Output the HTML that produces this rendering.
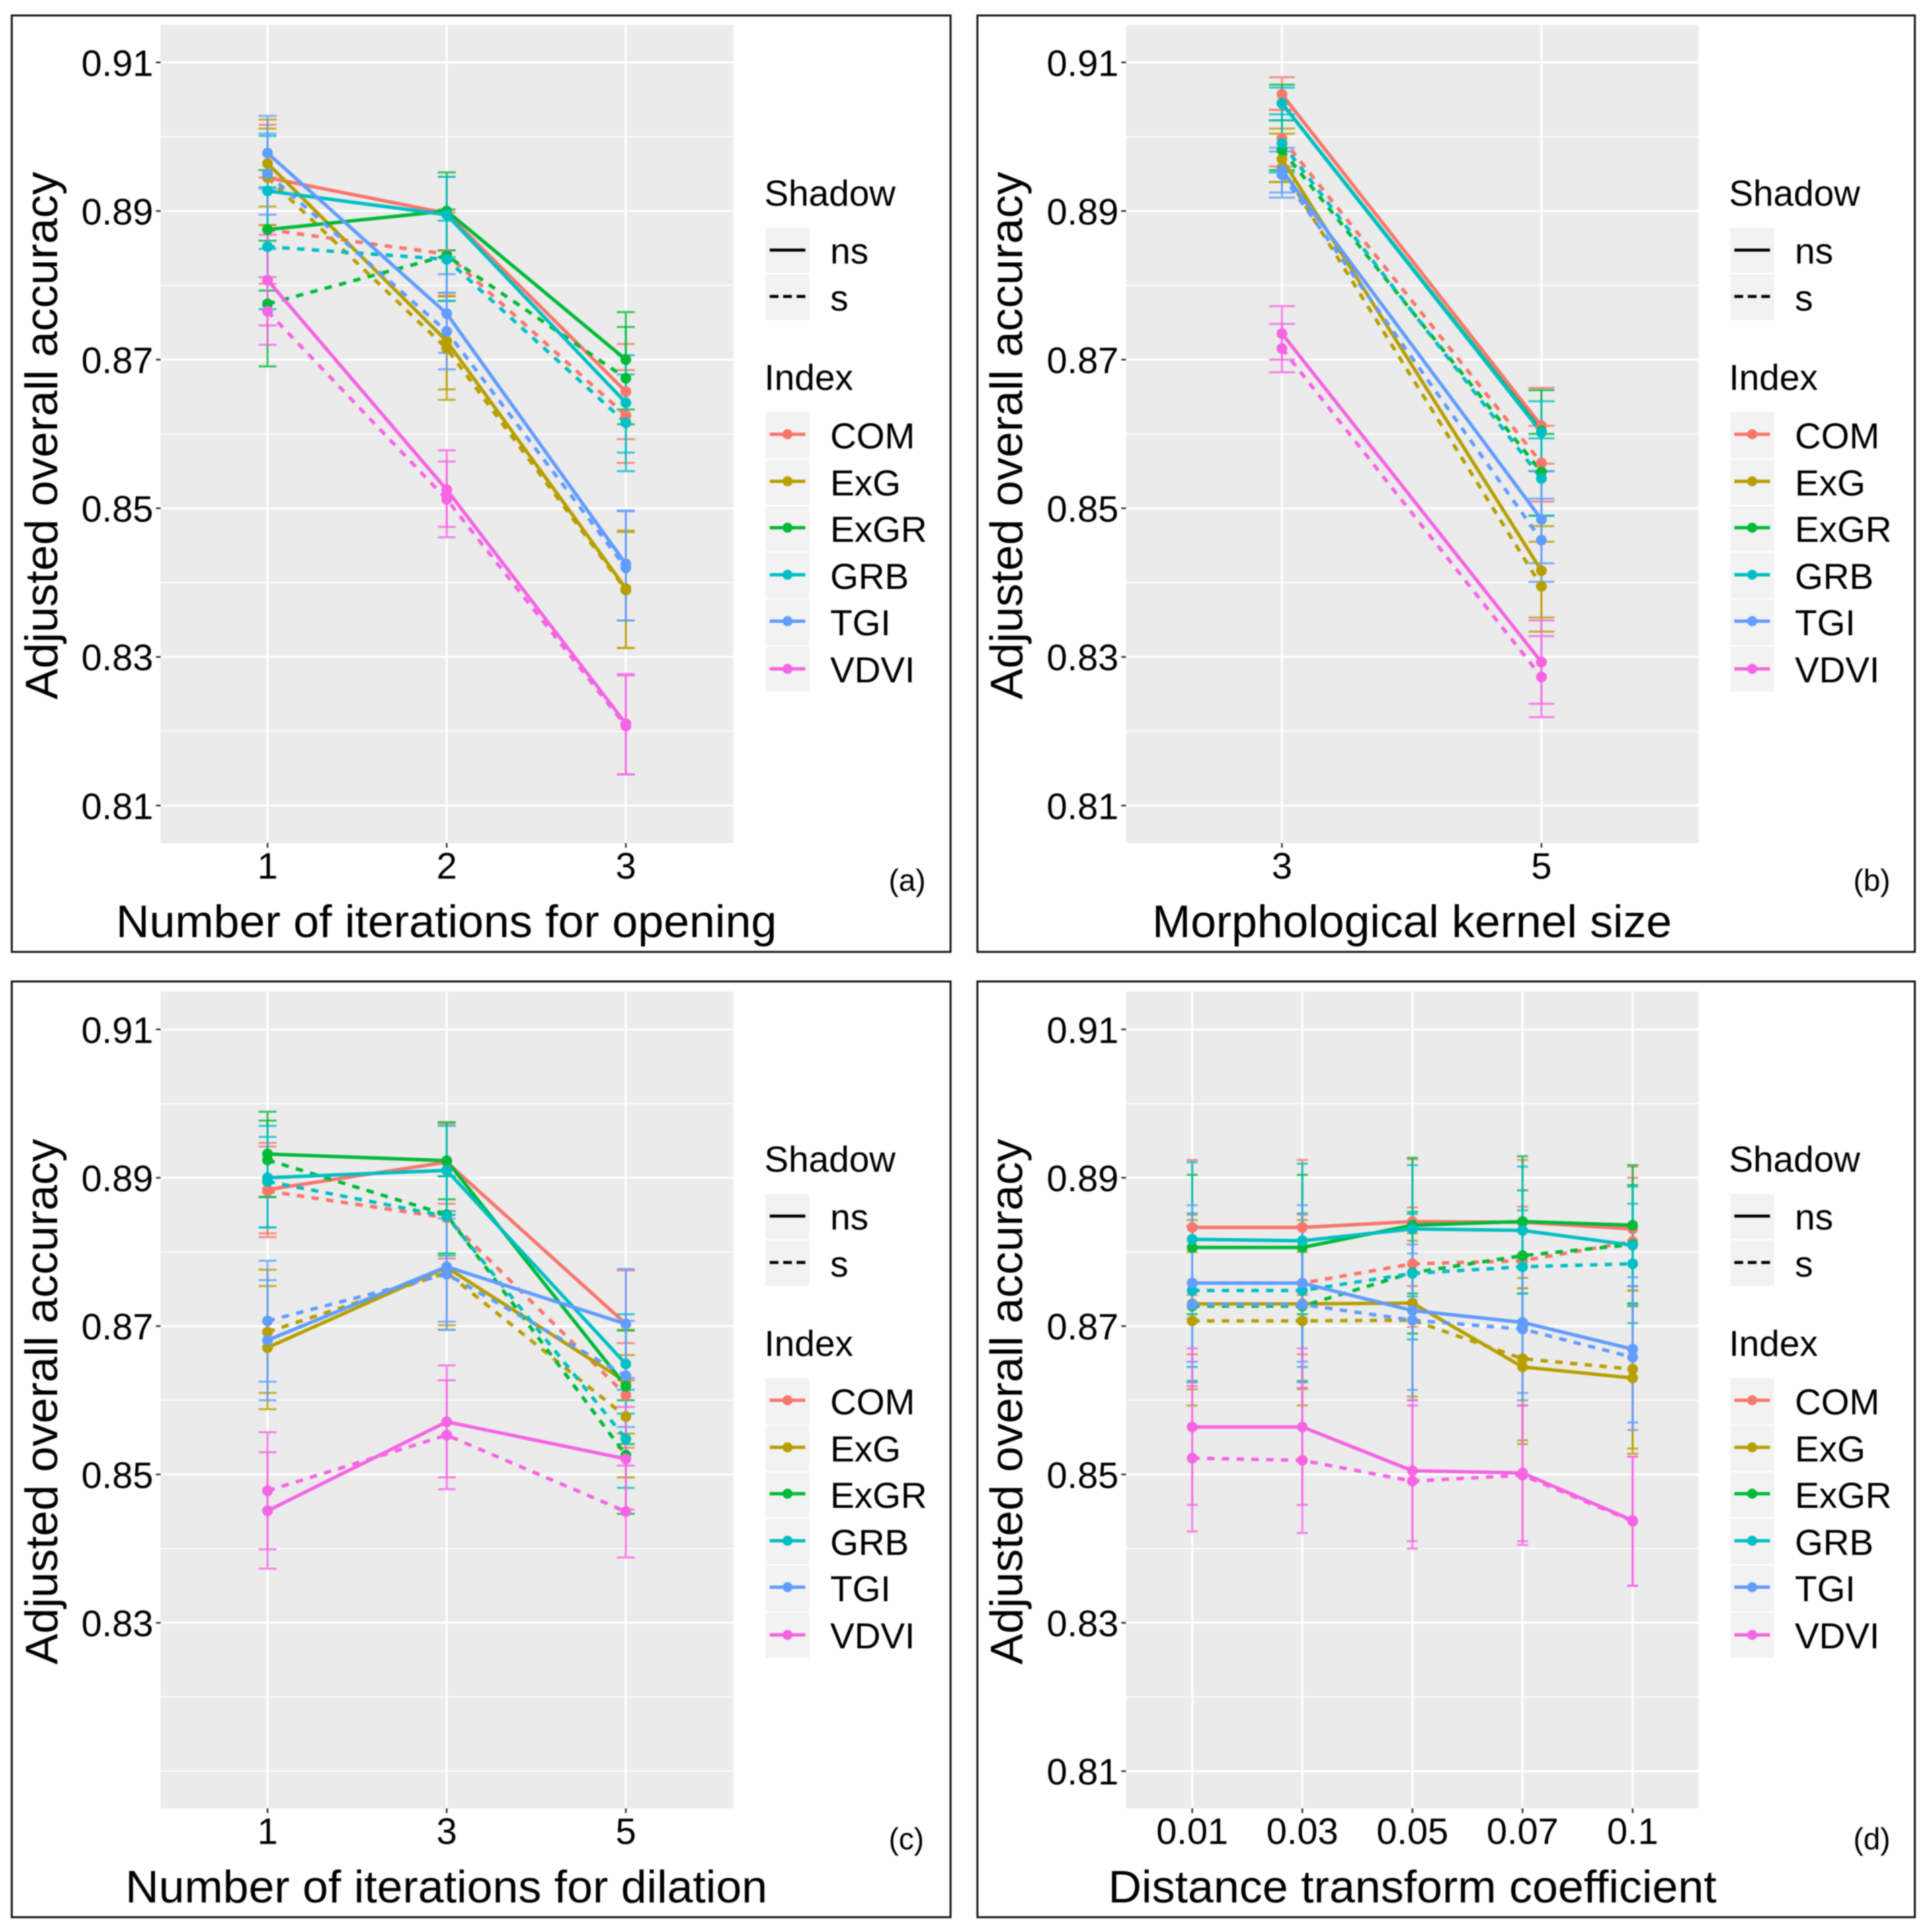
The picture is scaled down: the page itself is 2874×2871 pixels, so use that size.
<!DOCTYPE html>
<html lang="en">
<head>
<meta charset="utf-8">
<title>Adjusted overall accuracy panels</title>
<style>
html,body{margin:0;padding:0;background:#fff;}
body{width:2874px;height:2871px;overflow:hidden;}
svg{display:block;filter:blur(0.9px);font-family:"Liberation Sans",Arial,sans-serif;}
.axt{font-size:68px;fill:#000;}
.tk{font-size:55px;fill:#000;}
.lt{font-size:54px;fill:#000;}
.ll{font-size:54px;fill:#000;}
.tag{font-size:45px;fill:#000;}
.frame{fill:none;stroke:#1a1a1a;stroke-width:3;}
.key{fill:#f2f2f2;}
</style>
</head>
<body>
<svg id="chart" xmlns="http://www.w3.org/2000/svg" width="2874" height="2871" viewBox="0 0 2874 2871">
<rect width="2874" height="2871" fill="#fff"/>

<!-- panel a -->
<g>
<rect class="frame" x="17.5" y="23" width="1396.5" height="1393"/>
<g id="plot-a"></g>
<text class="axt" x="664" y="1394" text-anchor="middle" textLength="983" lengthAdjust="spacingAndGlyphs">Number of iterations for opening</text>
<text class="axt" transform="translate(85,648) rotate(-90)" text-anchor="middle" textLength="785" lengthAdjust="spacingAndGlyphs">Adjusted overall accuracy</text>
<text class="tag" x="1322" y="1325">(a)</text>
</g>

<!-- panel b -->
<g>
<rect class="frame" x="1454" y="23" width="1394.5" height="1393"/>
<g id="plot-b"></g>
<text class="axt" x="2100.5" y="1394" text-anchor="middle" textLength="773" lengthAdjust="spacingAndGlyphs">Morphological kernel size</text>
<text class="axt" transform="translate(1520.5,648) rotate(-90)" text-anchor="middle" textLength="785" lengthAdjust="spacingAndGlyphs">Adjusted overall accuracy</text>
<text class="tag" x="2757" y="1325">(b)</text>
</g>

<!-- panel c -->
<g>
<rect class="frame" x="17.5" y="1460" width="1396.5" height="1392"/>
<g id="plot-c"></g>
<text class="axt" x="664" y="2830" text-anchor="middle" textLength="955" lengthAdjust="spacingAndGlyphs">Number of iterations for dilation</text>
<text class="axt" transform="translate(85,2085) rotate(-90)" text-anchor="middle" textLength="782" lengthAdjust="spacingAndGlyphs">Adjusted overall accuracy</text>
<text class="tag" x="1322" y="2751">(c)</text>
</g>

<!-- panel d -->
<g>
<rect class="frame" x="1454" y="1460" width="1394.5" height="1392"/>
<g id="plot-d"></g>
<text class="axt" x="2101" y="2830" text-anchor="middle" textLength="905" lengthAdjust="spacingAndGlyphs">Distance transform coefficient</text>
<text class="axt" transform="translate(1520.5,2085) rotate(-90)" text-anchor="middle" textLength="782" lengthAdjust="spacingAndGlyphs">Adjusted overall accuracy</text>
<text class="tag" x="2757" y="2751">(d)</text>
</g>

<!-- legend a -->
<g transform="translate(0 0)">
<text class="lt" x="1137" y="306">Shadow</text>
<g><rect class="key" x="1139" y="339" width="65" height="67"/><line x1="1145" x2="1198" y1="372" y2="372" stroke="#000" stroke-width="4.5"/><text class="ll" x="1235" y="392">ns</text></g>
<g><rect class="key" x="1139" y="408" width="65" height="68"/><line x1="1145" x2="1198" y1="441" y2="441" stroke="#000" stroke-width="4.5" stroke-dasharray="13 7"/><text class="ll" x="1235" y="462">s</text></g>
<text class="lt" x="1137" y="580">Index</text>
<g><rect class="key" x="1139" y="613" width="65" height="69"/><line x1="1145" x2="1198" y1="646" y2="646" stroke="#F8766D" stroke-width="5"/><circle cx="1171.5" cy="646" r="7.5" fill="#F8766D"/><text class="ll" x="1235" y="667">COM</text></g>
<g><rect class="key" x="1139" y="684" width="65" height="67"/><line x1="1145" x2="1198" y1="716" y2="716" stroke="#B79F00" stroke-width="5"/><circle cx="1171.5" cy="716" r="7.5" fill="#B79F00"/><text class="ll" x="1235" y="737">ExG</text></g>
<g><rect class="key" x="1139" y="753" width="65" height="67"/><line x1="1145" x2="1198" y1="785" y2="785" stroke="#00BA38" stroke-width="5"/><circle cx="1171.5" cy="785" r="7.5" fill="#00BA38"/><text class="ll" x="1235" y="806">ExGR</text></g>
<g><rect class="key" x="1139" y="822" width="65" height="68"/><line x1="1145" x2="1198" y1="855" y2="855" stroke="#00BFC4" stroke-width="5"/><circle cx="1171.5" cy="855" r="7.5" fill="#00BFC4"/><text class="ll" x="1235" y="876">GRB</text></g>
<g><rect class="key" x="1139" y="892" width="65" height="68"/><line x1="1145" x2="1198" y1="924" y2="924" stroke="#619CFF" stroke-width="5"/><circle cx="1171.5" cy="924" r="7.5" fill="#619CFF"/><text class="ll" x="1235" y="945">TGI</text></g>
<g><rect class="key" x="1139" y="962" width="65" height="67"/><line x1="1145" x2="1198" y1="995" y2="995" stroke="#F564E3" stroke-width="5"/><circle cx="1171.5" cy="995" r="7.5" fill="#F564E3"/><text class="ll" x="1235" y="1015">VDVI</text></g>
</g>

<!-- legend b -->
<g transform="translate(1435 0)">
<text class="lt" x="1137" y="306">Shadow</text>
<g><rect class="key" x="1139" y="339" width="65" height="67"/><line x1="1145" x2="1198" y1="372" y2="372" stroke="#000" stroke-width="4.5"/><text class="ll" x="1235" y="392">ns</text></g>
<g><rect class="key" x="1139" y="408" width="65" height="68"/><line x1="1145" x2="1198" y1="441" y2="441" stroke="#000" stroke-width="4.5" stroke-dasharray="13 7"/><text class="ll" x="1235" y="462">s</text></g>
<text class="lt" x="1137" y="580">Index</text>
<g><rect class="key" x="1139" y="613" width="65" height="69"/><line x1="1145" x2="1198" y1="646" y2="646" stroke="#F8766D" stroke-width="5"/><circle cx="1171.5" cy="646" r="7.5" fill="#F8766D"/><text class="ll" x="1235" y="667">COM</text></g>
<g><rect class="key" x="1139" y="684" width="65" height="67"/><line x1="1145" x2="1198" y1="716" y2="716" stroke="#B79F00" stroke-width="5"/><circle cx="1171.5" cy="716" r="7.5" fill="#B79F00"/><text class="ll" x="1235" y="737">ExG</text></g>
<g><rect class="key" x="1139" y="753" width="65" height="67"/><line x1="1145" x2="1198" y1="785" y2="785" stroke="#00BA38" stroke-width="5"/><circle cx="1171.5" cy="785" r="7.5" fill="#00BA38"/><text class="ll" x="1235" y="806">ExGR</text></g>
<g><rect class="key" x="1139" y="822" width="65" height="68"/><line x1="1145" x2="1198" y1="855" y2="855" stroke="#00BFC4" stroke-width="5"/><circle cx="1171.5" cy="855" r="7.5" fill="#00BFC4"/><text class="ll" x="1235" y="876">GRB</text></g>
<g><rect class="key" x="1139" y="892" width="65" height="68"/><line x1="1145" x2="1198" y1="924" y2="924" stroke="#619CFF" stroke-width="5"/><circle cx="1171.5" cy="924" r="7.5" fill="#619CFF"/><text class="ll" x="1235" y="945">TGI</text></g>
<g><rect class="key" x="1139" y="962" width="65" height="67"/><line x1="1145" x2="1198" y1="995" y2="995" stroke="#F564E3" stroke-width="5"/><circle cx="1171.5" cy="995" r="7.5" fill="#F564E3"/><text class="ll" x="1235" y="1015">VDVI</text></g>
</g>

<!-- legend c -->
<g transform="translate(0 1437)">
<text class="lt" x="1137" y="306">Shadow</text>
<g><rect class="key" x="1139" y="339" width="65" height="67"/><line x1="1145" x2="1198" y1="372" y2="372" stroke="#000" stroke-width="4.5"/><text class="ll" x="1235" y="392">ns</text></g>
<g><rect class="key" x="1139" y="408" width="65" height="68"/><line x1="1145" x2="1198" y1="441" y2="441" stroke="#000" stroke-width="4.5" stroke-dasharray="13 7"/><text class="ll" x="1235" y="462">s</text></g>
<text class="lt" x="1137" y="580">Index</text>
<g><rect class="key" x="1139" y="613" width="65" height="69"/><line x1="1145" x2="1198" y1="646" y2="646" stroke="#F8766D" stroke-width="5"/><circle cx="1171.5" cy="646" r="7.5" fill="#F8766D"/><text class="ll" x="1235" y="667">COM</text></g>
<g><rect class="key" x="1139" y="684" width="65" height="67"/><line x1="1145" x2="1198" y1="716" y2="716" stroke="#B79F00" stroke-width="5"/><circle cx="1171.5" cy="716" r="7.5" fill="#B79F00"/><text class="ll" x="1235" y="737">ExG</text></g>
<g><rect class="key" x="1139" y="753" width="65" height="67"/><line x1="1145" x2="1198" y1="785" y2="785" stroke="#00BA38" stroke-width="5"/><circle cx="1171.5" cy="785" r="7.5" fill="#00BA38"/><text class="ll" x="1235" y="806">ExGR</text></g>
<g><rect class="key" x="1139" y="822" width="65" height="68"/><line x1="1145" x2="1198" y1="855" y2="855" stroke="#00BFC4" stroke-width="5"/><circle cx="1171.5" cy="855" r="7.5" fill="#00BFC4"/><text class="ll" x="1235" y="876">GRB</text></g>
<g><rect class="key" x="1139" y="892" width="65" height="68"/><line x1="1145" x2="1198" y1="924" y2="924" stroke="#619CFF" stroke-width="5"/><circle cx="1171.5" cy="924" r="7.5" fill="#619CFF"/><text class="ll" x="1235" y="945">TGI</text></g>
<g><rect class="key" x="1139" y="962" width="65" height="67"/><line x1="1145" x2="1198" y1="995" y2="995" stroke="#F564E3" stroke-width="5"/><circle cx="1171.5" cy="995" r="7.5" fill="#F564E3"/><text class="ll" x="1235" y="1015">VDVI</text></g>
</g>

<!-- legend d -->
<g transform="translate(1435 1437)">
<text class="lt" x="1137" y="306">Shadow</text>
<g><rect class="key" x="1139" y="339" width="65" height="67"/><line x1="1145" x2="1198" y1="372" y2="372" stroke="#000" stroke-width="4.5"/><text class="ll" x="1235" y="392">ns</text></g>
<g><rect class="key" x="1139" y="408" width="65" height="68"/><line x1="1145" x2="1198" y1="441" y2="441" stroke="#000" stroke-width="4.5" stroke-dasharray="13 7"/><text class="ll" x="1235" y="462">s</text></g>
<text class="lt" x="1137" y="580">Index</text>
<g><rect class="key" x="1139" y="613" width="65" height="69"/><line x1="1145" x2="1198" y1="646" y2="646" stroke="#F8766D" stroke-width="5"/><circle cx="1171.5" cy="646" r="7.5" fill="#F8766D"/><text class="ll" x="1235" y="667">COM</text></g>
<g><rect class="key" x="1139" y="684" width="65" height="67"/><line x1="1145" x2="1198" y1="716" y2="716" stroke="#B79F00" stroke-width="5"/><circle cx="1171.5" cy="716" r="7.5" fill="#B79F00"/><text class="ll" x="1235" y="737">ExG</text></g>
<g><rect class="key" x="1139" y="753" width="65" height="67"/><line x1="1145" x2="1198" y1="785" y2="785" stroke="#00BA38" stroke-width="5"/><circle cx="1171.5" cy="785" r="7.5" fill="#00BA38"/><text class="ll" x="1235" y="806">ExGR</text></g>
<g><rect class="key" x="1139" y="822" width="65" height="68"/><line x1="1145" x2="1198" y1="855" y2="855" stroke="#00BFC4" stroke-width="5"/><circle cx="1171.5" cy="855" r="7.5" fill="#00BFC4"/><text class="ll" x="1235" y="876">GRB</text></g>
<g><rect class="key" x="1139" y="892" width="65" height="68"/><line x1="1145" x2="1198" y1="924" y2="924" stroke="#619CFF" stroke-width="5"/><circle cx="1171.5" cy="924" r="7.5" fill="#619CFF"/><text class="ll" x="1235" y="945">TGI</text></g>
<g><rect class="key" x="1139" y="962" width="65" height="67"/><line x1="1145" x2="1198" y1="995" y2="995" stroke="#F564E3" stroke-width="5"/><circle cx="1171.5" cy="995" r="7.5" fill="#F564E3"/><text class="ll" x="1235" y="1015">VDVI</text></g>
</g>
</svg>

<script>
// Row order in every matrix below follows indexNames; columns follow the panel's categories.
const indexNames = ['COM', 'ExG', 'ExGR', 'GRB', 'TGI', 'VDVI'];
const indexColors = ['#F8766D', '#B79F00', '#00BA38', '#00BFC4', '#619CFF', '#F564E3'];

const yTicksFull = ['0.91', '0.89', '0.87', '0.85', '0.83', '0.81'];
const yTicksShort = ['0.91', '0.89', '0.87', '0.85', '0.83'];
const yMinorFull = [0.90, 0.88, 0.86, 0.84, 0.82];
const yMinorShort = [0.90, 0.88, 0.86, 0.84, 0.82, 0.81];

// Panel (a)
const categoriesA = ['1', '2', '3'];
const meanNsA = [[.8945,.8897,.8657],[.8964,.8725,.8392],[.8875,.8900,.8700],[.8927,.8895,.8642],[.8978,.8762,.8425],[.8807,.8525,.8210]];
const meanSA = [[.8875,.8842,.8625],[.8945,.8715,.8390],[.8775,.8840,.8675],[.8852,.8835,.8615],[.8950,.8738,.8420],[.8765,.8512,.8207]];
const upperNsA = [[.9016,.8946,.8721],[.9023,.8790,.8470],[.8955,.8952,.8764],[.9001,.8946,.8706],[.9028,.8815,.8497],[.8868,.8578,.8277]];
const lowerNsA = [[.8881,.8847,.8593],[.8906,.8660,.8312],[.8793,.8847,.8633],[.8849,.8838,.8575],[.8930,.8709,.8349],[.8746,.8475,.8142]];
const upperSA = [[.8945,.8898,.8686],[.9011,.8785,.8468],[.8860,.8902,.8744],[.8932,.8887,.8680],[.9004,.8790,.8496],[.8811,.8563,.8275]];
const lowerSA = [[.8802,.8786,.8561],[.8881,.8646,.8312],[.8691,.8779,.8613],[.8768,.8779,.8550],[.8895,.8687,.8349],[.8720,.8461,.8142]];

// Panel (b)
const categoriesB = ['3', '5'];
const meanNsB = [[.9057,.8611],[.8970,.8416],[.9045,.8604],[.9045,.8602],[.8955,.8485],[.8735,.8293]];
const meanSB = [[.8998,.8561],[.8958,.8395],[.8982,.8549],[.8991,.8540],[.8949,.8457],[.8715,.8273]];
const upperNsB = [[.9080,.8662],[.9011,.8476],[.9070,.8659],[.9066,.8644],[.8985,.8550],[.8772,.8349]];
const lowerNsB = [[.9036,.8560],[.8939,.8353],[.9022,.8550],[.9022,.8550],[.8925,.8426],[.8700,.8237]];
const upperSB = [[.9036,.8611],[.9004,.8455],[.9022,.8600],[.9030,.8594],[.8980,.8513],[.8748,.8328]];
const lowerSB = [[.8960,.8509],[.8939,.8334],[.8955,.8490],[.8952,.8490],[.8918,.8401],[.8683,.8219]];

// Panel (c)
const categoriesC = ['1', '3', '5'];
const meanNsC = [[.8884,.8921,.8703],[.8671,.8779,.8625],[.8932,.8923,.8619],[.8900,.8910,.8649],[.8681,.8780,.8703],[.8451,.8571,.8521]];
const meanSC = [[.8882,.8846,.8607],[.8692,.8772,.8578],[.8924,.8850,.8526],[.8895,.8848,.8548],[.8707,.8770,.8633],[.8478,.8553,.8450]];
const upperNsC = [[.8947,.8973,.8775],[.8754,.8855,.8695],[.8989,.8975,.8694],[.8970,.8970,.8716],[.8762,.8855,.8777],[.8530,.8647,.8591]];
const lowerNsC = [[.8825,.8865,.8627],[.8588,.8701,.8555],[.8874,.8871,.8541],[.8833,.8850,.8582],[.8600,.8706,.8630],[.8373,.8496,.8453]];
const upperSC = [[.8942,.8902,.8677],[.8776,.8850,.8661],[.8977,.8902,.8600],[.8955,.8902,.8614],[.8788,.8845,.8707],[.8557,.8627,.8512]];
const lowerSC = [[.8820,.8791,.8536],[.8610,.8695,.8496],[.8874,.8798,.8447],[.8833,.8795,.8482],[.8625,.8695,.8564],[.8399,.8480,.8388]];

// Panel (d)
const categoriesD = ['0.01', '0.03', '0.05', '0.07', '0.1'];
const meanNsD = [[.8833,.8833,.8841,.8840,.8831],[.8730,.8730,.8731,.8645,.8630],[.8806,.8806,.8836,.8841,.8836],[.8817,.8815,.8831,.8829,.8809],[.8758,.8758,.8721,.8705,.8669],[.8564,.8564,.8505,.8502,.8438]];
const meanSD = [[.8758,.8758,.8784,.8788,.8814],[.8707,.8707,.8708,.8656,.8642],[.8727,.8727,.8772,.8795,.8810],[.8748,.8748,.8771,.8780,.8784],[.8729,.8729,.8708,.8696,.8658],[.8522,.8519,.8491,.8499,.8437]];
const upperNsD = [[.8924,.8924,.8925,.8924,.8915],[.8843,.8843,.8825,.8751,.8730],[.8904,.8904,.8927,.8929,.8917],[.8921,.8919,.8917,.8915,.8888],[.8863,.8863,.8810,.8791,.8766],[.8670,.8670,.8600,.8593,.8524]];
const lowerNsD = [[.8742,.8742,.8754,.8751,.8748],[.8615,.8615,.8605,.8541,.8528],[.8716,.8716,.8744,.8744,.8754],[.8710,.8710,.8740,.8744,.8731],[.8652,.8652,.8614,.8610,.8570],[.8459,.8459,.8410,.8410,.8350]];
const upperSD = [[.8850,.8850,.8860,.8861,.8900],[.8800,.8800,.8815,.8765,.8748],[.8835,.8835,.8854,.8883,.8890],[.8852,.8852,.8851,.8856,.8865],[.8835,.8835,.8798,.8791,.8754],[.8619,.8617,.8593,.8593,.8524]];
const lowerSD = [[.8662,.8662,.8699,.8700,.8730],[.8593,.8593,.8600,.8546,.8535],[.8626,.8626,.8690,.8705,.8727],[.8645,.8645,.8682,.8700,.8704],[.8624,.8624,.8600,.8600,.8560],[.8423,.8421,.8400,.8405,.8350]];

const NS = 'http://www.w3.org/2000/svg';

function make(parent, tag, attrs) {
  const el = document.createElementNS(NS, tag);
  for (const k in attrs) el.setAttribute(k, attrs[k]);
  parent.appendChild(el);
  return el;
}

function drawPanel(cfg, categories, yLabels, yMinor, data) {
  const root = document.getElementById(cfg.id);
  const yScale = v => cfg.yTop + (0.91 - v) * cfg.pxPerUnit;
  const xScale = i => cfg.xFirst + i * cfg.xStep;

  const bg = make(root, 'rect', {x: cfg.left, y: cfg.top, width: cfg.right - cfg.left, height: cfg.bottom - cfg.top, fill: '#EBEBEB'});
  
  

  yMinor.forEach(v => {
    const g = make(root, 'line', {x1: cfg.left, x2: cfg.right, y1: yScale(v), y2: yScale(v), stroke: '#fff', 'stroke-width': 1.6});
    
    
  });

  yLabels.forEach(label => {
    const v = parseFloat(label);
    const g = make(root, 'line', {x1: cfg.left, x2: cfg.right, y1: yScale(v), y2: yScale(v), stroke: '#fff', 'stroke-width': 3});
    
    
    const t = make(root, 'line', {x1: cfg.left - 7, x2: cfg.left, y1: yScale(v), y2: yScale(v), stroke: '#333', 'stroke-width': 2.5});
    
    
    const txt = make(root, 'text', {class: 'tk', x: cfg.left - 11, y: yScale(v) + 20, 'text-anchor': 'end'});
    txt.textContent = label;
    
    
  });

  categories.forEach((label, i) => {
    const g = make(root, 'line', {x1: xScale(i), x2: xScale(i), y1: cfg.top, y2: cfg.bottom, stroke: '#fff', 'stroke-width': 3});
    
    
    const t = make(root, 'line', {x1: xScale(i), x2: xScale(i), y1: cfg.bottom, y2: cfg.bottom + 7, stroke: '#333', 'stroke-width': 2.5});
    
    
    const txt = make(root, 'text', {class: 'tk', x: xScale(i), y: cfg.bottom + 53, 'text-anchor': 'middle'});
    txt.textContent = label;
    
    
  });

  const capHalf = cfg.xStep * 0.05;
  const shadows = [
    {key: 'ns', mean: data.meanNs, upper: data.upperNs, lower: data.lowerNs, dash: ''},
    {key: 's', mean: data.meanS, upper: data.upperS, lower: data.lowerS, dash: '11 11'}
  ];

  // Error bars below everything else
  indexNames.forEach((name, s) => {
    shadows.forEach(sh => {
      categories.forEach((c, i) => {
        const x = xScale(i), hi = yScale(sh.upper[s][i]), lo = yScale(sh.lower[s][i]);
        const d = 'M' + (x - capHalf) + ' ' + hi + 'H' + (x + capHalf) + 'M' + x + ' ' + hi + 'V' + lo + 'M' + (x - capHalf) + ' ' + lo + 'H' + (x + capHalf);
        const e = make(root, 'path', {d: d, fill: 'none', stroke: indexColors[s], 'stroke-width': 3, opacity: 0.8});
        
        
      });
    });
  });

  // Connecting lines
  indexNames.forEach((name, s) => {
    shadows.forEach(sh => {
      const pts = categories.map((c, i) => xScale(i) + ',' + yScale(sh.mean[s][i])).join(' ');
      const attrs = {points: pts, fill: 'none', stroke: indexColors[s], 'stroke-width': 5.2, 'stroke-linejoin': 'round'};
      if (sh.dash) attrs['stroke-dasharray'] = sh.dash;
      const l = make(root, 'polyline', attrs);
      
      
    });
  });

  // Points
  indexNames.forEach((name, s) => {
    shadows.forEach(sh => {
      categories.forEach((c, i) => {
        const p = make(root, 'circle', {cx: xScale(i), cy: yScale(sh.mean[s][i]), r: 8, fill: indexColors[s]});
        
        
      });
    });
  });
}

drawPanel(
  {id: 'plot-a', left: 239, right: 1091, top: 37, bottom: 1254, yTop: 92.8, pxPerUnit: 11055, xFirst: 398, xStep: 266.5},
  categoriesA, yTicksFull, yMinorFull,
  {meanNs: meanNsA, meanS: meanSA, upperNs: upperNsA, lowerNs: lowerNsA, upperS: upperSA, lowerS: lowerSA}
);
drawPanel(
  {id: 'plot-b', left: 1675, right: 2526.5, top: 37, bottom: 1254, yTop: 92.8, pxPerUnit: 11055, xFirst: 1907, xStep: 386},
  categoriesB, yTicksFull, yMinorFull,
  {meanNs: meanNsB, meanS: meanSB, upperNs: upperNsB, lowerNs: lowerNsB, upperS: upperSB, lowerS: lowerSB}
);
drawPanel(
  {id: 'plot-c', left: 239, right: 1091, top: 1475, bottom: 2690, yTop: 1531.3, pxPerUnit: 11034, xFirst: 398, xStep: 266.5},
  categoriesC, yTicksShort, yMinorShort,
  {meanNs: meanNsC, meanS: meanSC, upperNs: upperNsC, lowerNs: lowerNsC, upperS: upperSC, lowerS: lowerSC}
);
drawPanel(
  {id: 'plot-d', left: 1675, right: 2526.5, top: 1475, bottom: 2690, yTop: 1531.3, pxPerUnit: 11034, xFirst: 1773.5, xStep: 163.8},
  categoriesD, yTicksFull, yMinorFull,
  {meanNs: meanNsD, meanS: meanSD, upperNs: upperNsD, lowerNs: lowerNsD, upperS: upperSD, lowerS: lowerSD}
);
</script>
</body>
</html>
